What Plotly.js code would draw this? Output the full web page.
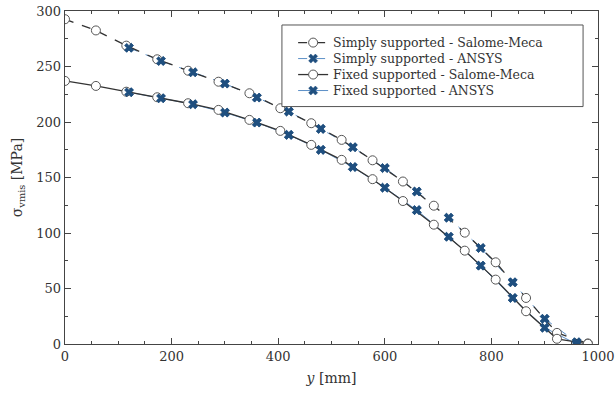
<!DOCTYPE html>
<html><head><meta charset="utf-8">
<script src="https://cdn.plot.ly/plotly-3.0.1.min.js"></script>
<style>html,body{margin:0;padding:0;background:#fff}#chart{width:615px;height:396px}</style>
</head><body><div id="chart"></div>
<script>
// Salome-Meca positions (mm) and stresses (MPa)
const salomeY = [0, 58, 115, 173, 231, 288, 346, 404, 462, 519, 577, 634, 692, 750, 808, 865, 923, 981];
const simplySalome = [292.6, 282.5, 268.8, 256.5, 246.2, 236.3, 225.9, 212.4, 198.9, 183.9, 165.5, 146.4, 124.6, 100.3, 73.6, 41.5, 10.0, 0.5];
const fixedSalome  = [237.0, 232.5, 227.3, 222.3, 216.9, 210.9, 201.9, 192.0, 179.4, 165.9, 148.5, 128.8, 107.5, 84.1, 58.0, 29.5, 4.7, 0.2];
// ANSYS positions (mm) and stresses (MPa)
const ansysY = [120, 180, 240, 300, 360, 420, 480, 540, 600, 660, 720, 780, 840, 900, 960];
const simplyAnsys = [266.9, 255.0, 244.8, 234.6, 222.0, 209.4, 193.8, 177.3, 158.5, 137.4, 113.8, 86.5, 55.6, 22.7, 1.6];
const fixedAnsys  = [226.8, 221.4, 216.0, 208.5, 199.5, 188.4, 174.9, 159.4, 140.8, 120.6, 96.6, 70.6, 41.5, 14.6, 0.0];
const names = ["Simply supported - Salome-Meca", "Simply supported - ANSYS", "Fixed supported - Salome-Meca", "Fixed supported - ANSYS"];

const black = '#333333', blue = '#5b8fc7', cross = '#1f4f7f';
const circ = {symbol: 'circle', size: 9, color: '#ffffff', line: {color: '#555555', width: 1}};
const xm = {symbol: 'x', size: 8, color: cross, line: {color: cross, width: 0.5}};

const traces = [
  {x: ansysY, y: simplyAnsys, name: names[1], legend: 'legend2', mode: 'lines+markers', line: {color: blue, width: 1, dash: 'dash'}, marker: xm},
  {x: ansysY, y: fixedAnsys, name: names[3], legend: 'legend4', mode: 'lines+markers', line: {color: blue, width: 1}, marker: xm},
  {x: salomeY, y: simplySalome, name: names[0], legend: 'legend', mode: 'lines+markers', line: {color: black, width: 1.3, dash: 'dash'}, marker: circ},
  {x: salomeY, y: fixedSalome, name: names[2], legend: 'legend3', mode: 'lines+markers', line: {color: black, width: 1.3}, marker: circ},
  {x: ansysY, y: simplyAnsys, mode: 'markers', showlegend: false, marker: xm, hoverinfo: 'skip'},
  {x: ansysY, y: fixedAnsys, mode: 'markers', showlegend: false, marker: xm, hoverinfo: 'skip'}
];

const serif = 'DejaVu Serif';
const axisCommon = {
  showgrid: false, zeroline: false, showline: true, linecolor: '#444', linewidth: 1.3,
  mirror: 'ticks', ticks: 'inside', ticklen: 6, tickwidth: 1, tickcolor: '#444',
  tickfont: {family: serif, size: 13, color: '#333'}, ticklabeloverflow: 'allow'
};
function leg(y) {
  return {x: 0.428, y: y, xanchor: 'left', yanchor: 'middle', bgcolor: 'rgba(0,0,0,0)', borderwidth: 0,
          font: {family: serif, size: 12.5, color: '#333'}, itemwidth: 30};
}
const layout = {
  width: 615, height: 396,
  margin: {l: 65, r: 17, t: 11, b: 52},
  paper_bgcolor: '#fff', plot_bgcolor: '#fff',
  font: {family: serif},
  xaxis: Object.assign({}, axisCommon, {
    range: [0, 1000], dtick: 200, tick0: 0,
    minor: {dtick: 50, ticks: 'inside', ticklen: 3, tickcolor: '#444'},
    title: {text: '<i>y</i> [mm]', font: {family: serif, size: 14, color: '#333'}, standoff: 10}
  }),
  yaxis: Object.assign({}, axisCommon, {
    range: [0, 300], dtick: 50, tick0: 0,
    minor: {dtick: 25, ticks: 'inside', ticklen: 3, tickcolor: '#444'},
    title: {text: 'σ<sub>vmis</sub> [MPa]', font: {family: serif, size: 14, color: '#333'}, standoff: 10}
  }),
  showlegend: true,
  legend: leg(0.904), legend2: leg(0.856), legend3: leg(0.808), legend4: leg(0.760),
  shapes: [{type: 'rect', xref: 'paper', yref: 'paper', x0: 0.407, x1: 0.972, y0: 0.713, y1: 0.958,
            line: {color: '#555', width: 1}, fillcolor: '#fff', layer: 'above'}]
};
Plotly.newPlot('chart', traces, layout, {staticPlot: true, displayModeBar: false});
</script></body></html>
